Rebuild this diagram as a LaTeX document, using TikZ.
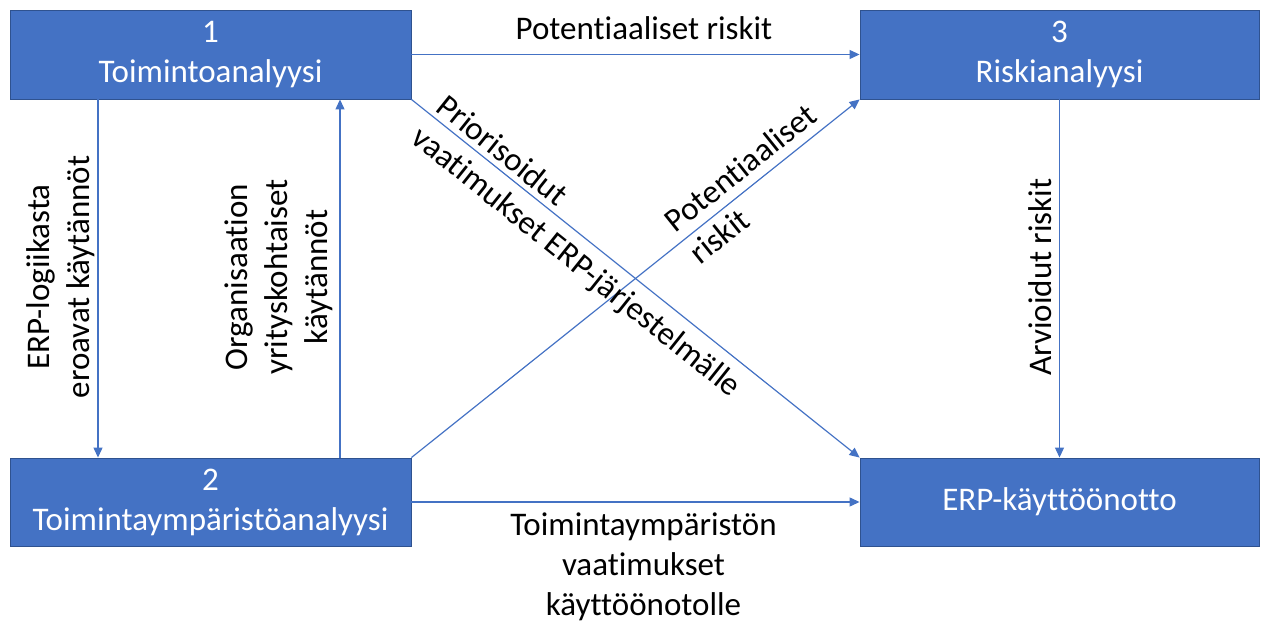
\documentclass[tikz,border=0pt]{standalone}
\usepackage{fontspec}
\setmainfont{Carlito}[Ligatures={NoCommon,NoContextual}]
\usetikzlibrary{arrows.meta}
\definecolor{boxblue}{HTML}{4472C4}
\definecolor{boxedge}{HTML}{2F528F}
\tikzset{
  stage/.style={rectangle, fill=boxblue, draw=boxedge, line width=0.9pt,
    text=white, align=center, inner sep=0pt,
    font=\fontsize{33}{40}\selectfont},
  flow/.style={draw=boxblue, line width=1.2pt,
    -{Triangle[length=10pt,width=9pt]}},
  lbl/.style={text=black, inner sep=0pt, font=\fontsize{33}{40}\selectfont}
}
\begin{document}
\begin{tikzpicture}[x=1pt, y=-1pt]
  \useasboundingbox (0,0) rectangle (1261,628);

  % the four stages
  \node[stage, minimum width=401pt, minimum height=89pt] (b1) at (210.5,54.5) {1\\Toimintoanalyysi};
  \node[stage, minimum width=399pt, minimum height=89pt] (b3) at (1059.5,54.5) {3\\Riskianalyysi};
  \node[stage, minimum width=401pt, minimum height=88pt] (b2) at (210.5,502) {2\\Toimintaympäristöanalyysi};
  \node[stage, minimum width=399pt, minimum height=88pt] (b4) at (1059.5,502) {ERP-käyttöönotto};

  % columns of the vertical connectors on the left
  \coordinate (down) at (98,0);
  \coordinate (up) at (340,0);

  % connectors
  \draw[flow] (b1.south -| down) -- (b2.north -| down);
  \draw[flow] (b2.north -| up) -- (b1.south -| up);
  \draw[flow] (b1) -- (b3);
  \draw[flow] (b2) -- (b4);
  \draw[flow] (b3) -- (b4);
  \draw[flow] (b1.south east) -- (b4.north west);
  \draw[flow] (b2.north east) -- (b3.south west);

  % connector labels
  \node[lbl, anchor=base] (t13) at (644,40) {Potentiaaliset riskit};
  \node[lbl, align=center, anchor=north] (t24) at (643.5,513) {Toimintaympäristön\\vaatimukset\\käyttöönotolle};
  \node[lbl, align=center, rotate=90] (t12) at (61,277) {ERP-logiikasta\\eroavat käytännöt};
  \node[lbl, align=center, rotate=90] (t21) at (279,277) {Organisaation\\yrityskohtaiset\\käytännöt};
  \node[lbl, rotate=90] (t34) at (1040,277) {Arvioidut riskit};
  \node[lbl, align=left, rotate=-38.66, anchor=north west] (t14) at (449,92) {Priorisoidut\\vaatimukset ERP-järjestelmälle};
  \node[lbl, align=left, rotate=38.66, anchor=north west] (t23) at (661,216) {Potentiaaliset\\riskit};
\end{tikzpicture}
\end{document}
